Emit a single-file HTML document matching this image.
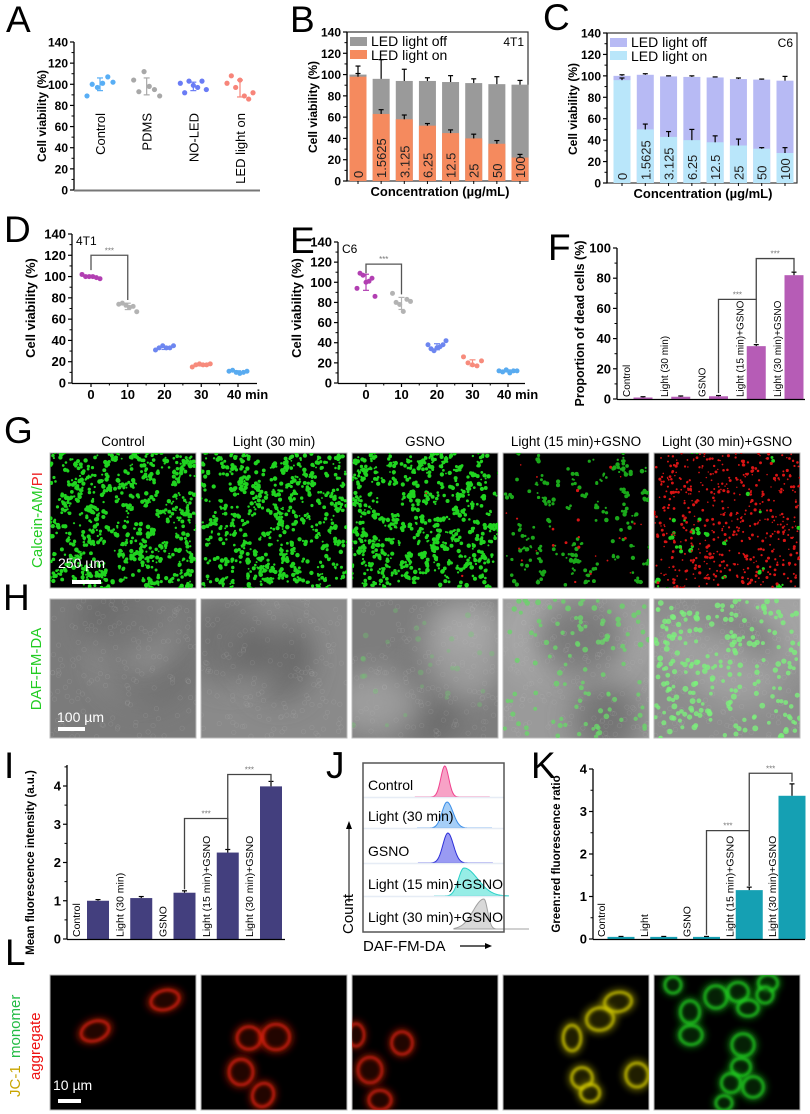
<!DOCTYPE html>
<html><head><meta charset="utf-8">
<style>
body{margin:0;background:#fff}
svg{display:block;font-family:"Liberation Sans",Arial,sans-serif}
</style></head>
<body>
<svg id="fig" width="810" height="1114" viewBox="0 0 810 1114">
<defs>
<filter id="blur8" x="-50%" y="-50%" width="200%" height="200%"><feGaussianBlur stdDeviation="14"/></filter>
<filter id="blur1" x="-20%" y="-20%" width="140%" height="140%"><feGaussianBlur stdDeviation="1.3"/></filter>
<filter id="blur3" x="-50%" y="-50%" width="200%" height="200%"><feGaussianBlur stdDeviation="3"/></filter>
</defs>
</svg>
<script>
// ---------- DATA ----------
const A_cats=['Control','PDMS','NO-LED','LED light on'];
const A_pts=[[89,100,97,101,107,102],[104,93,112,98,95,89],[101,92,103,99,97,103,95],[101,108,97,104,89,86,92]];
const A_mean=[100,98,98,96];
const A_sd=[6,8,4,8];

const B_conc=['0','1.5625','3.125','6.25','12.5','25','50','100'];
const B_off=[100,96,94,94,93,92,91,90.5];
const B_off_err=[8,18,11,3,6,4,7,4];
const B_on=[98,63,58,52,45,40,35,22];
const B_on_err=[3,4,4,2,3,4,3,3];

const C_off=[100,101,99.5,99,98.5,97,96.5,95.5];
const C_off_err=[1,1,0.5,1,0.5,1,0.5,4];
const C_on=[96,50,43,40,38,35,32,28];
const C_on_err=[2,5,5,10,6,6,1,5];

const D_times=[0,10,20,30,40];
const D_ticks=['0','10','20','30','40 min'];
const D_pts=[[102,100,100,100,99,98],[74,75,73,71,72,67],[31,33,35,33,33,35],[15,17,18,17,17,18],[11,12,10,9,10,11]];
const D_mean=[100,72,33,17,10.5];
const D_sd=[1,3,1.5,1,1];

const E_pts=[[94,109,107,100,101,104,86],[89,80,78,71,83,81],[38,34,32,35,36,38,42],[26,20,18,17,22],[12,11,13,10,12,12]];
const E_mean=[100,79,36,20,12];
const E_sd=[8,6,3,3,1];

const F_cats=['Control','Light (30 min)','GSNO','Light (15 min)+GSNO','Light (30 min)+GSNO'];
const F_vals=[1,1.5,1.8,35,82];
const F_err=[0.5,0.5,0.5,1,2];

const I_cats=['Control','Light (30 min)','GSNO','Light (15 min)+GSNO','Light (30 min)+GSNO'];
const I_vals=[1.0,1.07,1.21,2.26,3.99];
const I_err=[0.03,0.04,0.05,0.08,0.13];

const J_rows=['Control','Light (30 min)','GSNO','Light (15 min)+GSNO','Light (30 min)+GSNO'];
const J_peak=[0.58,0.596,0.602,0.716,0.858];
const J_height=[31,26,30,28,30];

const K_cats=['Control','Light','GSNO','Light (15 min)+GSNO','Light (30 min)+GSNO'];
const K_vals=[0.05,0.05,0.05,1.15,3.37];
const K_err=[0.01,0.01,0.01,0.07,0.28];

const IMG_titles=['Control','Light (30 min)','GSNO','Light (15 min)+GSNO','Light (30 min)+GSNO'];

// ---------- HELPERS ----------
const NS='http://www.w3.org/2000/svg';
const svg=document.getElementById('fig');
function mk(tag,attrs,parent,name){
  const e=document.createElementNS(NS,tag);
  for(const k in attrs) e.setAttribute(k,attrs[k]);
  
  
  (parent||svg).appendChild(e);
  return e;
}
function txt(s,x,y,opts,parent,name){
  const t=mk('text',Object.assign({x:x,y:y,'font-size':12,fill:'#000'},opts||{}),parent,name);
  t.textContent=s; return t;
}
function vtxt(s,x,y,opts,parent,name){
  return txt(s,x,y,Object.assign({transform:'rotate(-90 '+x+' '+y+')'},opts||{}),parent,name);
}
function lin(d0,d1,r0,r1){return v=>r0+(v-d0)*(r1-r0)/(d1-d0);}
function ln(x1,y1,x2,y2,stroke,w,parent,name){return mk('line',{x1:x1,y1:y1,x2:x2,y2:y2,stroke:stroke,'stroke-width':w},parent,name);}
function group(name){return mk('g',{},svg,name);}
function yAxis(g,x,ys,vmin,vmax,top,step,fmt,fs){
  ln(x,ys(vmin)+0.5,x,ys(top),'#000',1.3,g,'y-axis-line');
  for(let v=vmin;v<=vmax+1e-9;v+=step){
    const y=ys(v);
    ln(x-4,y,x,y,'#000',1.2,g,'y-tick');
    txt(fmt(v),x-6,y+4.5,{'text-anchor':'end','font-weight':'bold','font-size':fs||12},g,'y-tick-label');
    const ym=ys(v+step/2);
    if(v+step/2<=top) ln(x-2.5,ym,x,ym,'#000',1,g,'y-minor-tick');
  }
}
function errbar(g,x,y1,y2,color,cap){
  ln(x,y1,x,y2,color,1.2,g,'error-bar');
  ln(x-cap,y2,x+cap,y2,color,1.2,g,'error-cap');
}
function letter(s,x,y){txt(s,x,y,{'font-size':37},svg,'panel-label-'+s.toLowerCase());}
function bracket(g,x1,y1,x2,y2,ytop,color){
  mk('polyline',{points:x1+','+y1+' '+x1+','+ytop+' '+x2+','+ytop+' '+x2+','+y2,fill:'none',stroke:color||'#555','stroke-width':1.3},g,'significance-bracket');
  txt('***',(x1+x2)/2,ytop-2,{'text-anchor':'middle','font-size':8,fill:'#777'},g,'significance-stars');
}
let seed=12345;
function rnd(){seed=(seed*1664525+1013904223)%4294967296;return seed/4294967296;}

// ---------- PANEL A ----------
letter('A',6,32);
(function(){
  const g=group('panel-a');
  const ys=lin(0,140,190,42);
  const xs=lin(0,3,100,240);
  const cols=['#58aef5','#a8a8a8','#6a7cf5','#f7857a'];
  yAxis(g,74,ys,0,140,140,20,v=>v,12);
  ln(74,190.5,260,190.5,'#777',2,g,'x-axis-line');
  vtxt('Cell viability (%)',46,116,{'text-anchor':'middle','font-weight':'bold','font-size':12},g,'y-axis-title');
  A_cats.forEach((c,i)=>{
    const cx=xs(i);
    const n=A_pts[i].length;
    A_pts[i].forEach((v,j)=>{
      mk('circle',{cx:cx-13+26*j/(n-1),cy:ys(v),r:2.6,fill:cols[i]},g,'data-point');
    });
    errbar(g,cx,ys(A_mean[i]-A_sd[i]),ys(A_mean[i]+A_sd[i]),cols[i],3);
    ln(cx-3,ys(A_mean[i]-A_sd[i]),cx+3,ys(A_mean[i]-A_sd[i]),cols[i],1.2,g,'error-cap');
    vtxt(c,cx+5,113,{'font-size':13,'text-anchor':'end'},g,'x-category-label');
  });
})();

// ---------- BAR helper for B / C ----------
function stacked(name,x0,xr,ytop,ybot,xs,off,offErr,on,onErr,cOff,cOn,legend,tag,titleX){
  const g=group(name);
  const ys=lin(0,140,ybot,ytop);
  mk('rect',{x:x0,y:ytop,width:xr-x0,height:ybot-ytop,fill:'none',stroke:'#333','stroke-width':1.2},g,'plot-frame');
  off.forEach((v,i)=>{
    const cx=xs(i);
    mk('rect',{x:cx-8.5,y:ys(v),width:17,height:ybot-ys(v),fill:cOff},g,'bar-light-off');
    errbar(g,cx,ys(v),ys(v+offErr[i]),'#000',2.5);
    mk('rect',{x:cx-8.5,y:ys(on[i]),width:17,height:ybot-ys(on[i]),fill:cOn},g,'bar-light-on');
    errbar(g,cx,ys(on[i]),ys(on[i]+onErr[i]),'#000',2.5);
    vtxt(B_conc[i],cx+5,ybot-3,{'font-size':13,fill:'#222'},g,'bar-concentration-label');
    ln(cx,ybot,cx,ybot+3,'#000',1,g,'x-tick');
  });
  yAxis(g,x0,ys,0,140,140,20,v=>v,12);
  vtxt('Cell viability (%)',x0-30,ybot-74,{'text-anchor':'middle','font-weight':'bold','font-size':12},g,'y-axis-title');
  txt('Concentration (µg/mL)',titleX,ybot+15,{'text-anchor':'middle','font-weight':'bold','font-size':13},g,'x-axis-title');
  mk('rect',{x:x0+3,y:ytop+5,width:17,height:9,fill:cOff},g,'legend-swatch-off');
  txt('LED light off',x0+24,ytop+14,{'font-size':14},g,'legend-entry-off');
  mk('rect',{x:x0+3,y:ytop+18,width:17,height:9,fill:cOn},g,'legend-swatch-on');
  txt('LED light on',x0+24,ytop+28,{'font-size':14},g,'legend-entry-on');
  txt(tag,xr-4,ytop+14,{'text-anchor':'end','font-size':12},g,'cell-line-label');
}
letter('B',290,32);
stacked('panel-b',347,528,32,181,lin(0,7,358,520),B_off,B_off_err,B_on,B_on_err,'#9a9a9a','#f58a5e',true,'4T1',440);
letter('C',543,30);
stacked('panel-c',607,797,33,183,lin(0,7,622,785),C_off,C_off_err,C_on,C_on_err,'#b7baf4','#b9e6fa',true,'C6',703);

// ---------- D / E scatter ----------
function scatter(name,x0,xr,ytop,ybot,xs,pts,mean,sd,tag,titleX,brTop,brL,brR){
  const g=group(name);
  const ys=lin(0,140,ybot,ytop);
  const cols=['#b23fb2','#b3b3b3','#6d86f0','#f78b7c','#59abf0'];
  yAxis(g,x0,ys,0,140,140,20,v=>v,13);
  ln(x0,ybot+0.5,xr,ybot+0.5,'#000',1.3,g,'x-axis-line');
  D_times.forEach((t,i)=>{
    const cx=xs(t);
    ln(cx,ybot,cx,ybot+4,'#000',1.2,g,'x-tick');
    if(i<4) ln(xs(t+5),ybot,xs(t+5),ybot+2.5,'#000',1,g,'x-minor-tick');
    const lbl=D_ticks[i];
    txt(lbl,i===4?cx-11:cx,ybot+16,{'text-anchor':i===4?'start':'middle','font-weight':'bold','font-size':13},g,'x-tick-label');
    const n=pts[i].length;
    pts[i].forEach((v,j)=>mk('circle',{cx:cx-9+18*j/(n-1),cy:ys(v),r:2.5,fill:cols[i]},g,'data-point'));
    errbar(g,cx,ys(mean[i]-sd[i]),ys(mean[i]+sd[i]),cols[i],3);
    ln(cx-3,ys(mean[i]-sd[i]),cx+3,ys(mean[i]-sd[i]),cols[i],1.2,g,'error-cap');
  });
  vtxt('Cell viability (%)',x0-37,ybot-75,{'text-anchor':'middle','font-weight':'bold','font-size':13},g,'y-axis-title');
  txt(tag,x0+4,ytop+11,{'font-size':12},g,'cell-line-label');
  bracket(g,xs(0),ys(brL),xs(10),ys(brR),ys(brTop),'#555');
}
letter('D',4,242);
scatter('panel-d',72,257,234,383,lin(0,40,91,238),D_pts,D_mean,D_sd,'4T1',150,120,106,78);
letter('E',290,253);
scatter('panel-e',338,525,242,383,lin(0,40,366,508),E_pts,E_mean,E_sd,'C6',430,118,109,88);

// ---------- simple bar charts F / I / K ----------
function bars(name,x0,xr,ytop,ybot,vmax,axTop,step,xs,cats,vals,err,color,bw,lblOff,lblFs,yTitle,titleFs,br){
  const g=group(name);
  const ys=lin(0,vmax,ybot,ytop);
  vals.forEach((v,i)=>{
    const cx=xs(i);
    mk('rect',{x:cx-bw/2,y:ys(v),width:bw,height:ybot-ys(v),fill:color},g,'bar');
    errbar(g,cx,ys(v),ys(v+err[i]),'#000',2.5);
    vtxt(cats[i],cx-lblOff,ybot-2,{'font-size':lblFs},g,'bar-category-label');
  });
  yAxis(g,x0,ys,0,vmax,axTop,step,v=>v,13);
  ln(x0,ybot+0.5,xr,ybot+0.5,'#000',1.3,g,'x-axis-line');
  vtxt(yTitle,x0-33,(ytop+ybot)/2,{'text-anchor':'middle','font-weight':'bold','font-size':titleFs},g,'y-axis-title');
  br.forEach(b=>bracket(g,xs(b[0]),ys(b[1]),xs(b[2]),ys(b[3]),ys(b[4]),'#444'));
}
letter('F',548,260);
bars('panel-f',617,805,248,399,100,100,20,lin(0,4,643,794),F_cats,F_vals,F_err,'#b65cb6',19,13,10,'Proportion of dead cells (%)',12.5,[[2,4,3,37,66],[3,66,4,84,93]]);

letter('I',4,778);
bars('panel-i',67,285,786,939,4,4.55,1,lin(0,4,98,271),I_cats,I_vals,I_err,'#433f7e',22,18,10.5,'Mean fluorescence intensity (a.u.)',11.5,[[2,1.3,3,2.35,3.15],[3,2.35,4,4.1,4.3]]);

letter('K',531,778);
bars('panel-k',593,805,769,939,4,4,1,lin(0,4,621,792),K_cats,K_vals,K_err,'#15a0b3',27,16,10.5,'Green:red fluorescence ratio',11.5,[[2,0.1,3,1.25,2.55],[3,1.25,4,3.7,3.9]]);

// ---------- J histograms ----------
letter('J',326,778);
(function(){
  const g=group('panel-j');
  const xs=lin(0,1,363,504);
  const rowBot=[797,828,863,896,929];
  const cols=['#f0428e','#3b8ee8','#2d2fd8','#2bd0c8','#a0a0a0'];
  const fills=['#f58bb8','#8ec2f5','#7f81f0','#7ce8e0','#cfcfcf'];
  const sig=[4,5,5,5.5,6];
  const tail=[1,1.2,1.1,2.5,0.6];
  J_rows.forEach((r,i)=>{
    const b=rowBot[i], px=xs(J_peak[i]);
    let d='M'+(px-30)+','+b;
    for(let dx=-30;dx<=45;dx+=1){
      const s=dx>0?sig[i]*tail[i]:sig[i]*(i===4?1.8:1);
      const y=b-J_height[i]*Math.exp(-dx*dx/(2*s*s));
      d+=' L'+(px+dx)+','+y.toFixed(2);
    }
    d+=' Z';
    mk('path',{d:d,fill:fills[i],'fill-opacity':0.8,stroke:cols[i],'stroke-width':1},g,'histogram-'+i);
    if(i<4) ln(363,b+0.5,504,b+0.5,'#e6ecf5',1.5,g,'row-separator');
    txt(r,368,b-7,{'font-size':14},g,'row-label');
  });
  mk('rect',{x:363,y:763,width:141,height:169,fill:'none',stroke:'#555','stroke-width':1.5},g,'histogram-frame');
  vtxt('Count',353,934,{'font-size':15},g,'y-axis-title');
  ln(349,902,349,826,'#000',1,g,'y-arrow');
  mk('path',{d:'M346,829 L349,821 L352,829 Z',fill:'#000'},g,'y-arrow-head');
  txt('DAF-FM-DA',363,951,{'font-size':15},g,'x-axis-title');
  ln(460,946,488,946,'#000',1.2,g,'x-arrow');
  mk('path',{d:'M485,943 L492,946 L485,949 Z',fill:'#000'},g,'x-arrow-head');
})();

// ---------- Micrographs ----------
const imgX=[50,201,352,503,654], imgW=146;
function frame(g,x,y,w,h,fill,name,idx){
  const cp=mk('clipPath',{id:name+'-clip-'+idx},svg,'clip');
  mk('rect',{x:x,y:y,width:w,height:h},cp,'clip-rect');
  mk('rect',{x:x,y:y,width:w,height:h,fill:fill,stroke:'#bbb','stroke-width':1},g,'image-background');
  return mk('g',{'clip-path':'url(#'+name+'-clip-'+idx+')'},g,'image-content');
}
// G
letter('G',4,443);
(function(){
  const g=group('panel-g');
  const greens=[330,300,320,90,20], reds=[0,0,2,25,520];
  IMG_titles.forEach((t,i)=>{
    txt(t,imgX[i]+imgW/2,446,{'text-anchor':'middle','font-size':13.5},g,'column-title');
    const c=frame(g,imgX[i],453,imgW,135,'#000','g',i);
    for(let k=0;k<greens[i];k++){
      const cx=imgX[i]+rnd()*imgW, cy=453+rnd()*135, n=1+Math.floor(rnd()*4);
      for(let m=0;m<n;m++) mk('circle',{cx:cx+(rnd()-0.5)*7,cy:cy+(rnd()-0.5)*7,r:0.9+rnd()*1.4,fill:i===3?'#1aa81a':'#20d420'},c,'calcein-cell');
    }
    for(let k=0;k<reds[i];k++){
      mk('circle',{cx:imgX[i]+rnd()*imgW,cy:453+rnd()*135,r:0.7+rnd()*0.9,fill:'#d81414'},c,'pi-cell');
    }
  });
  const lab=mk('text',{x:42,y:520,'font-size':15,'text-anchor':'middle',transform:'rotate(-90 42 520)'},g,'row-label-calcein');
  const s1=mk('tspan',{fill:'#22cc22'},lab,'label-calcein'); s1.textContent='Calcein-AM/';
  const s2=mk('tspan',{fill:'#ee2222'},lab,'label-pi'); s2.textContent='PI';
  txt('250 µm',58,568,{'font-size':14,fill:'#fff'},g,'scale-bar-label');
  mk('rect',{x:72,y:580,width:29,height:4,fill:'#fff'},g,'scale-bar');
})();
// H
letter('H',3,610);
(function(){
  const g=group('panel-h');
  const greens=[0,0,30,110,230];
  const bg=['#7b7b7b','#8a8a8a','#7d7d7d','#9a9a9a','#8d8d8d'];
  imgX.forEach((x,i)=>{
    const c=frame(g,x,599,imgW,139,bg[i],'h',i);
    for(let k=0;k<4;k++) mk('ellipse',{cx:x+20+rnd()*110,cy:610+rnd()*115,rx:30+rnd()*20,ry:25+rnd()*20,fill:rnd()>0.5?'#b4b4b4':'#5c5c5c',opacity:0.6,filter:'url(#blur8)'},c,'illumination');
    for(let k=0;k<160;k++) mk('circle',{cx:x+rnd()*imgW,cy:599+rnd()*139,r:2.2,fill:'none',stroke:'#c8c8c8','stroke-width':0.6,opacity:0.18},c,'cell-outline');
    for(let k=0;k<greens[i];k++) mk('circle',{cx:x+rnd()*imgW,cy:599+rnd()*139,r:1.8+rnd()*1.2,fill:i===4?'#7cf07c':'#6ad46a',opacity:i===2?0.3:0.8},c,'no-fluorescent-cell');
  });
  vtxt('DAF-FM-DA',41,669,{'text-anchor':'middle','font-size':15,fill:'#22cc22'},g,'row-label-daf');
  txt('100 µm',57,722,{'font-size':14,fill:'#fff'},g,'scale-bar-label');
  mk('rect',{x:58,y:727,width:27,height:4,fill:'#fff'},g,'scale-bar');
})();
// L
letter('L',5,965);
(function(){
  const g=group('panel-l');
  const cells=[
    [[45,56,18,12,-20],[115,25,18,12,-15]],
    [[48,63,15,14,0],[75,62,17,16,0],[40,97,15,16,0],[62,120,13,15,25]],
    [[4,60,10,14,0],[18,95,15,16,0],[28,125,14,12,0],[50,68,13,14,0]],
    [[115,27,17,12,-10],[97,44,17,14,-10],[69,63,11,16,0],[79,103,13,13,0],[87,118,12,11,0],[134,100,14,15,0]],
    [[19,10,10,10,0],[36,37,12,14,0],[62,22,14,14,0],[84,17,13,12,0],[114,8,12,10,0],[111,20,10,10,0],[94,33,13,10,0],[37,60,14,12,0],[89,70,14,14,0],[87,92,12,11,0],[77,108,12,12,0],[99,112,13,13,0],[70,128,10,9,0]]
  ];
  const cols=['#d81e0a','#d81e0a','#d01e0a','#c8c000','#1ec81e'];
  imgX.forEach((x,i)=>{
    const c=frame(g,x,975,imgW,135,'#000','l',i);
    cells[i].forEach(cl=>{
      const cx=x+cl[0], cy=975+cl[1];
      const tr='rotate('+cl[4]+' '+cx+' '+cy+')';
      mk('ellipse',{cx:cx,cy:cy,rx:cl[2]+2,ry:cl[3]+2,transform:tr,fill:cols[i],'fill-opacity':0.35,filter:'url(#blur3)'},c,'cell-glow');
      mk('ellipse',{cx:cx,cy:cy,rx:cl[2]*0.8,ry:cl[3]*0.8,transform:tr,fill:'none',stroke:cols[i],'stroke-width':3,'stroke-opacity':0.8,filter:'url(#blur1)'},c,'mitochondria-cell');
      mk('ellipse',{cx:cx,cy:cy,rx:cl[2]*0.55,ry:cl[3]*0.55,transform:tr,fill:'#000','fill-opacity':0.55,filter:'url(#blur1)'},c,'cell-nucleus');
    });
  });
  vtxt('JC-1 ',20,1097,{'font-size':15,fill:'#c8a400'},g,'row-label-jc1');
  vtxt('monomer',20,1058,{'font-size':15,fill:'#22bb44'},g,'row-label-monomer');
  vtxt('aggregate',40,1080,{'font-size':15,fill:'#ee1111'},g,'row-label-aggregate');
  txt('10 µm',53,1090,{'font-size':14,fill:'#fff'},g,'scale-bar-label');
  mk('rect',{x:58,y:1099,width:23,height:4,fill:'#fff'},g,'scale-bar');
})();
</script>
</body></html>
